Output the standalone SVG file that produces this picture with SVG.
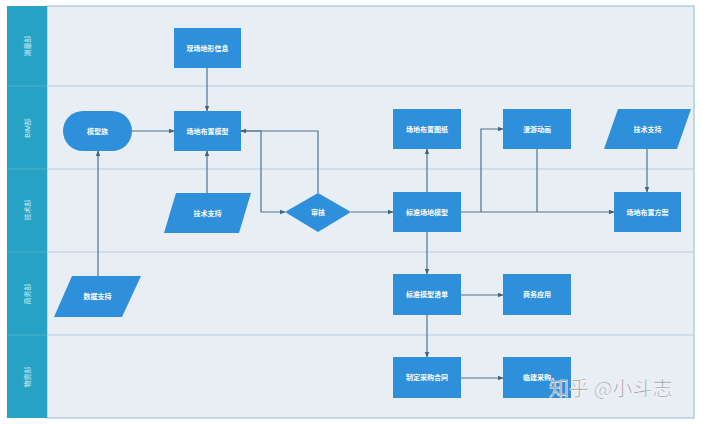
<svg xmlns="http://www.w3.org/2000/svg" width="703" height="424" viewBox="0 0 703 424">
<style>
.node{fill:#2e8fdb}
.t{font-family:"Liberation Sans","Noto Sans CJK SC",sans-serif;font-size:7px;font-weight:bold;fill:#ffffff;text-anchor:middle;dominant-baseline:central}
.lane{font-family:"Liberation Sans","Noto Sans CJK SC",sans-serif;font-size:7px;fill:#d8f0f7;text-anchor:middle;dominant-baseline:central}
.edge{fill:none;stroke:#4f7390;stroke-width:1.2}
.div{stroke:#b5cde0;stroke-width:1.2}
</style>
<defs>
<marker id="ah" viewBox="0 0 10 10" refX="9" refY="5" markerWidth="6" markerHeight="6" orient="auto" markerUnits="userSpaceOnUse">
<path d="M0,1 L10,5 L0,9 z" fill="#3f6480"/>
</marker>
</defs>
<rect x="0" y="0" width="703" height="424" fill="#ffffff"/>
<g id="pool">
<rect x="47" y="6" width="647" height="412" fill="#e8eef4" stroke="#9fc7d8" stroke-width="1.2"/>
<rect x="7" y="6" width="40" height="412" fill="#28a2c4"/>
<line class="div" x1="47" y1="86" x2="694" y2="86"/>
<line class="div" x1="47" y1="169" x2="694" y2="169"/>
<line class="div" x1="47" y1="252" x2="694" y2="252"/>
<line class="div" x1="47" y1="335" x2="694" y2="335"/>
<g stroke="#4fb6d2" stroke-width="0.8">
<line x1="7" y1="86" x2="47" y2="86"/>
<line x1="7" y1="169" x2="47" y2="169"/>
<line x1="7" y1="252" x2="47" y2="252"/>
<line x1="7" y1="335" x2="47" y2="335"/>
</g>
<text class="lane" transform="translate(27 46) rotate(-90)">测量部</text>
<text class="lane" transform="translate(27 128) rotate(-90)">BIM部</text>
<text class="lane" transform="translate(27 210) rotate(-90)">技术部</text>
<text class="lane" transform="translate(27 294) rotate(-90)">商务部</text>
<text class="lane" transform="translate(27 377) rotate(-90)">物资部</text>
</g>
<g id="connectors">
<path class="edge" d="M207,68 V111" marker-end="url(#ah)"/>
<path class="edge" d="M132,131 H174" marker-end="url(#ah)"/>
<path class="edge" d="M207,193 V151" marker-end="url(#ah)"/>
<path class="edge" d="M98,276 V151" marker-end="url(#ah)"/>
<path class="edge" d="M241,131 H261 V212 H285" marker-end="url(#ah)"/>
<path class="edge" d="M318,193 V131 H241" marker-end="url(#ah)"/>
<path class="edge" d="M351,212 H393" marker-end="url(#ah)"/>
<path class="edge" d="M427,192 V149" marker-end="url(#ah)"/>
<path class="edge" d="M461,212 H614" marker-end="url(#ah)"/>
<path class="edge" d="M481,212 V129 H503" marker-end="url(#ah)"/>
<path class="edge" d="M537,149 V212"/>
<path class="edge" d="M647,149 V192" marker-end="url(#ah)"/>
<path class="edge" d="M427,232 V274" marker-end="url(#ah)"/>
<path class="edge" d="M461,295 H503" marker-end="url(#ah)"/>
<path class="edge" d="M427,315 V357" marker-end="url(#ah)"/>
<path class="edge" d="M461,378 H503" marker-end="url(#ah)"/>
</g>
<g id="n-xianchang"><rect class="node" x="174" y="28" width="67" height="40"/><text class="t" x="207.5" y="48">现场地形信息</text></g>
<g id="n-moxingzu"><rect class="node" x="63" y="111" width="69" height="40" rx="20"/><text class="t" x="97.5" y="131">模型族</text></g>
<g id="n-changdimoxing"><rect class="node" x="174" y="111" width="67" height="40"/><text class="t" x="207.5" y="131">场地布置模型</text></g>
<g id="n-jishu1"><polygon class="node" points="176,193 251,193 239,233 164,233"/><text class="t" x="207.5" y="213">技术支持</text></g>
<g id="n-shenhe"><polygon class="node" points="285,212 318,193 351,212 318,232"/><text class="t" x="318" y="212">审核</text></g>
<g id="n-shuju"><polygon class="node" points="72,276 141,276 122,317 54,317"/><text class="t" x="97.5" y="296.5">数据支持</text></g>
<g id="n-tuzhi"><rect class="node" x="393" y="109" width="68" height="40"/><text class="t" x="427" y="129">场地布置图纸</text></g>
<g id="n-manyou"><rect class="node" x="503" y="109" width="68" height="40"/><text class="t" x="537" y="129">漫游动画</text></g>
<g id="n-jishu2"><polygon class="node" points="618,109 691,109 677,149 604,149"/><text class="t" x="647.5" y="129">技术支持</text></g>
<g id="n-biaozhun"><rect class="node" x="393" y="192" width="68" height="40"/><text class="t" x="427" y="212">标准场地模型</text></g>
<g id="n-fangan"><rect class="node" x="614" y="192" width="67" height="40"/><text class="t" x="647.5" y="212">场地布置方案</text></g>
<g id="n-qingdan"><rect class="node" x="393" y="274" width="68" height="41"/><text class="t" x="427" y="294.5">标准模型清单</text></g>
<g id="n-shangwu"><rect class="node" x="503" y="274" width="68" height="41"/><text class="t" x="537" y="294.5">商务应用</text></g>
<g id="n-hetong"><rect class="node" x="393" y="357" width="68" height="41"/><text class="t" x="427" y="377.5">制定采购合同</text></g>
<g id="n-linjian"><rect class="node" x="503" y="357" width="68" height="41"/><text class="t" x="537" y="377.5">临建采购</text></g>
<text x="549" y="396" font-family="'Noto Sans CJK SC',sans-serif" font-size="20" fill="#8a8f94" stroke="#ffffff" stroke-width="0.6" opacity="0.9">知乎 @小斗志</text>
</svg>
